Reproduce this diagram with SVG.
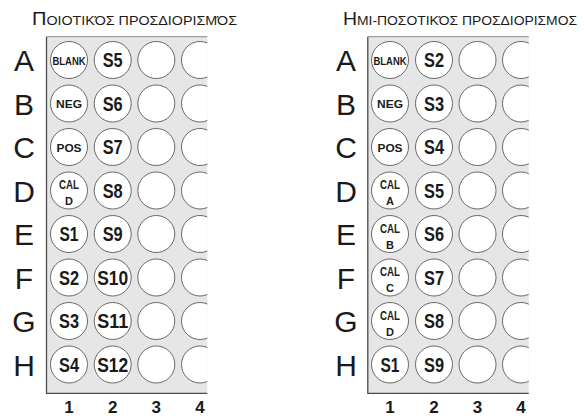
<svg xmlns="http://www.w3.org/2000/svg" width="584" height="418" viewBox="0 0 584 418">
<defs>
<style>
text{font-family:"Liberation Sans","DejaVu Sans",sans-serif;fill:#1a1a1a;text-anchor:middle}
.title{text-anchor:start;font-size:12.5px}
.title .cap{font-size:17.5px}
.row{font-size:30px}
.col{font-size:17px;font-weight:bold}
.plate{fill:#e6e6e6}
.edge{fill:none;stroke:#4d4d4d;stroke-width:1.3}
.topedge{fill:none;stroke:#8a8a8a;stroke-width:1}
.well{fill:#fff;stroke:#5a5a5a;stroke-width:0.9}
.s{font-size:20px;font-weight:bold}
.m{font-size:11.5px;font-weight:bold}
.c{font-size:12px;font-weight:bold}
.c2{font-size:11px;font-weight:bold}
</style>
<clipPath id="clipL"><rect x="0" y="0" width="207.3" height="418"/></clipPath>
<clipPath id="clipR"><rect x="0" y="0" width="528.8" height="418"/></clipPath>
</defs>

<!-- Left plate: qualitative -->
<g id="left-title">
<text class="title" x="32" y="25" textLength="205" lengthAdjust="spacingAndGlyphs"><tspan class="cap">Π</tspan>ΟΙΟΤΙΚΌΣ ΠΡΟΣΔΙΟΡΙΣΜΌΣ</text>
</g>
<g id="left-plate">
<rect class="plate" x="46.5" y="36.7" width="160.8" height="356.6"/>
<path class="topedge" d="M207.3,36.7 H46.5"/>
<path class="edge" d="M46.5,36.7 V393.3 H207.3"/>
</g>
<g id="left-rows">
<text class="row" x="24" y="71">A</text>
<text class="row" x="24" y="114.5">B</text>
<text class="row" x="24" y="158">C</text>
<text class="row" x="24" y="201.5">D</text>
<text class="row" x="24" y="245">E</text>
<text class="row" x="24" y="288.5">F</text>
<text class="row" x="24" y="332">G</text>
<text class="row" x="24" y="375.5">H</text>
</g>
<g id="left-cols">
<text class="col" x="69" y="413">1</text>
<text class="col" x="112.7" y="413">2</text>
<text class="col" x="156.3" y="413">3</text>
<text class="col" x="200" y="413">4</text>
</g>
<g id="left-wells">
<g id="L-A1"><circle class="well" cx="69" cy="60" r="18.5"/><text class="m" x="69" y="64.5" textLength="33" lengthAdjust="spacingAndGlyphs">BLANK</text></g>
<g id="L-B1"><circle class="well" cx="69" cy="103.5" r="18.5"/><text class="m" x="69" y="108" textLength="26" lengthAdjust="spacingAndGlyphs">NEG</text></g>
<g id="L-C1"><circle class="well" cx="69" cy="147" r="18.5"/><text class="m" x="69" y="151.5" textLength="25" lengthAdjust="spacingAndGlyphs">POS</text></g>
<g id="L-D1"><circle class="well" cx="69" cy="190.5" r="18.5"/><text class="c" x="69" y="189" textLength="20" lengthAdjust="spacingAndGlyphs">CAL</text><text class="c2" x="69" y="205">D</text></g>
<g id="L-E1"><circle class="well" cx="69" cy="234" r="18.5"/><text class="s" x="69" y="241" textLength="19" lengthAdjust="spacingAndGlyphs">S1</text></g>
<g id="L-F1"><circle class="well" cx="69" cy="277.5" r="18.5"/><text class="s" x="69" y="284.5" textLength="20" lengthAdjust="spacingAndGlyphs">S2</text></g>
<g id="L-G1"><circle class="well" cx="69" cy="321" r="18.5"/><text class="s" x="69" y="328" textLength="20" lengthAdjust="spacingAndGlyphs">S3</text></g>
<g id="L-H1"><circle class="well" cx="69" cy="364.5" r="18.5"/><text class="s" x="69" y="371.5" textLength="20" lengthAdjust="spacingAndGlyphs">S4</text></g>
<g id="L-A2"><circle class="well" cx="112.7" cy="60" r="18.5"/><text class="s" x="112.7" y="67" textLength="20" lengthAdjust="spacingAndGlyphs">S5</text></g>
<g id="L-B2"><circle class="well" cx="112.7" cy="103.5" r="18.5"/><text class="s" x="112.7" y="110.5" textLength="20" lengthAdjust="spacingAndGlyphs">S6</text></g>
<g id="L-C2"><circle class="well" cx="112.7" cy="147" r="18.5"/><text class="s" x="112.7" y="154" textLength="20" lengthAdjust="spacingAndGlyphs">S7</text></g>
<g id="L-D2"><circle class="well" cx="112.7" cy="190.5" r="18.5"/><text class="s" x="112.7" y="197.5" textLength="20" lengthAdjust="spacingAndGlyphs">S8</text></g>
<g id="L-E2"><circle class="well" cx="112.7" cy="234" r="18.5"/><text class="s" x="112.7" y="241" textLength="20" lengthAdjust="spacingAndGlyphs">S9</text></g>
<g id="L-F2"><circle class="well" cx="112.7" cy="277.5" r="18.5"/><text class="s" x="112.7" y="284.5" textLength="31" lengthAdjust="spacingAndGlyphs">S10</text></g>
<g id="L-G2"><circle class="well" cx="112.7" cy="321" r="18.5"/><text class="s" x="112.7" y="328" textLength="31" lengthAdjust="spacingAndGlyphs">S11</text></g>
<g id="L-H2"><circle class="well" cx="112.7" cy="364.5" r="18.5"/><text class="s" x="112.7" y="371.5" textLength="31" lengthAdjust="spacingAndGlyphs">S12</text></g>
<g id="L-col3">
<circle class="well" cx="156.3" cy="60" r="18.5"/><circle class="well" cx="156.3" cy="103.5" r="18.5"/>
<circle class="well" cx="156.3" cy="147" r="18.5"/><circle class="well" cx="156.3" cy="190.5" r="18.5"/>
<circle class="well" cx="156.3" cy="234" r="18.5"/><circle class="well" cx="156.3" cy="277.5" r="18.5"/>
<circle class="well" cx="156.3" cy="321" r="18.5"/><circle class="well" cx="156.3" cy="364.5" r="18.5"/>
</g>
<g id="L-col4" clip-path="url(#clipL)">
<circle class="well" cx="200" cy="60" r="18.5"/><circle class="well" cx="200" cy="103.5" r="18.5"/>
<circle class="well" cx="200" cy="147" r="18.5"/><circle class="well" cx="200" cy="190.5" r="18.5"/>
<circle class="well" cx="200" cy="234" r="18.5"/><circle class="well" cx="200" cy="277.5" r="18.5"/>
<circle class="well" cx="200" cy="321" r="18.5"/><circle class="well" cx="200" cy="364.5" r="18.5"/>
</g>
</g>

<!-- Right plate: semi-quantitative -->
<g id="right-title">
<text class="title" x="343" y="25" textLength="234" lengthAdjust="spacingAndGlyphs"><tspan class="cap">Η</tspan>ΜΙ-ΠΟΣΟΤΙΚΌΣ ΠΡΟΣΔΙΟΡΙΣΜΟΣ</text>
</g>
<g id="right-plate">
<rect class="plate" x="367.8" y="36.7" width="161" height="356.6"/>
<path class="topedge" d="M528.8,36.7 H367.8"/>
<path class="edge" d="M367.8,36.7 V393.3 H528.8"/>
</g>
<g id="right-rows">
<text class="row" x="346" y="71">A</text>
<text class="row" x="346" y="114.5">B</text>
<text class="row" x="346" y="158">C</text>
<text class="row" x="346" y="201.5">D</text>
<text class="row" x="346" y="245">E</text>
<text class="row" x="346" y="288.5">F</text>
<text class="row" x="346" y="332">G</text>
<text class="row" x="346" y="375.5">H</text>
</g>
<g id="right-cols">
<text class="col" x="390" y="413">1</text>
<text class="col" x="434" y="413">2</text>
<text class="col" x="477.5" y="413">3</text>
<text class="col" x="521" y="413">4</text>
</g>
<g id="right-wells">
<g id="R-A1"><circle class="well" cx="390" cy="60" r="18.5"/><text class="m" x="390" y="64.5" textLength="33" lengthAdjust="spacingAndGlyphs">BLANK</text></g>
<g id="R-B1"><circle class="well" cx="390" cy="103.5" r="18.5"/><text class="m" x="390" y="108" textLength="26" lengthAdjust="spacingAndGlyphs">NEG</text></g>
<g id="R-C1"><circle class="well" cx="390" cy="147" r="18.5"/><text class="m" x="390" y="151.5" textLength="25" lengthAdjust="spacingAndGlyphs">POS</text></g>
<g id="R-D1"><circle class="well" cx="390" cy="190.5" r="18.5"/><text class="c" x="390" y="189" textLength="20" lengthAdjust="spacingAndGlyphs">CAL</text><text class="c2" x="390" y="205">A</text></g>
<g id="R-E1"><circle class="well" cx="390" cy="234" r="18.5"/><text class="c" x="390" y="232.5" textLength="20" lengthAdjust="spacingAndGlyphs">CAL</text><text class="c2" x="390" y="248.5">B</text></g>
<g id="R-F1"><circle class="well" cx="390" cy="277.5" r="18.5"/><text class="c" x="390" y="276" textLength="20" lengthAdjust="spacingAndGlyphs">CAL</text><text class="c2" x="390" y="292">C</text></g>
<g id="R-G1"><circle class="well" cx="390" cy="321" r="18.5"/><text class="c" x="390" y="319.5" textLength="20" lengthAdjust="spacingAndGlyphs">CAL</text><text class="c2" x="390" y="335.5">D</text></g>
<g id="R-H1"><circle class="well" cx="390" cy="364.5" r="18.5"/><text class="s" x="390" y="371.5" textLength="19" lengthAdjust="spacingAndGlyphs">S1</text></g>
<g id="R-A2"><circle class="well" cx="434" cy="60" r="18.5"/><text class="s" x="434" y="67" textLength="20" lengthAdjust="spacingAndGlyphs">S2</text></g>
<g id="R-B2"><circle class="well" cx="434" cy="103.5" r="18.5"/><text class="s" x="434" y="110.5" textLength="20" lengthAdjust="spacingAndGlyphs">S3</text></g>
<g id="R-C2"><circle class="well" cx="434" cy="147" r="18.5"/><text class="s" x="434" y="154" textLength="20" lengthAdjust="spacingAndGlyphs">S4</text></g>
<g id="R-D2"><circle class="well" cx="434" cy="190.5" r="18.5"/><text class="s" x="434" y="197.5" textLength="20" lengthAdjust="spacingAndGlyphs">S5</text></g>
<g id="R-E2"><circle class="well" cx="434" cy="234" r="18.5"/><text class="s" x="434" y="241" textLength="20" lengthAdjust="spacingAndGlyphs">S6</text></g>
<g id="R-F2"><circle class="well" cx="434" cy="277.5" r="18.5"/><text class="s" x="434" y="284.5" textLength="20" lengthAdjust="spacingAndGlyphs">S7</text></g>
<g id="R-G2"><circle class="well" cx="434" cy="321" r="18.5"/><text class="s" x="434" y="328" textLength="20" lengthAdjust="spacingAndGlyphs">S8</text></g>
<g id="R-H2"><circle class="well" cx="434" cy="364.5" r="18.5"/><text class="s" x="434" y="371.5" textLength="20" lengthAdjust="spacingAndGlyphs">S9</text></g>
<g id="R-col3">
<circle class="well" cx="477.5" cy="60" r="18.5"/><circle class="well" cx="477.5" cy="103.5" r="18.5"/>
<circle class="well" cx="477.5" cy="147" r="18.5"/><circle class="well" cx="477.5" cy="190.5" r="18.5"/>
<circle class="well" cx="477.5" cy="234" r="18.5"/><circle class="well" cx="477.5" cy="277.5" r="18.5"/>
<circle class="well" cx="477.5" cy="321" r="18.5"/><circle class="well" cx="477.5" cy="364.5" r="18.5"/>
</g>
<g id="R-col4" clip-path="url(#clipR)">
<circle class="well" cx="521" cy="60" r="18.5"/><circle class="well" cx="521" cy="103.5" r="18.5"/>
<circle class="well" cx="521" cy="147" r="18.5"/><circle class="well" cx="521" cy="190.5" r="18.5"/>
<circle class="well" cx="521" cy="234" r="18.5"/><circle class="well" cx="521" cy="277.5" r="18.5"/>
<circle class="well" cx="521" cy="321" r="18.5"/><circle class="well" cx="521" cy="364.5" r="18.5"/>
</g>
</g>
</svg>
